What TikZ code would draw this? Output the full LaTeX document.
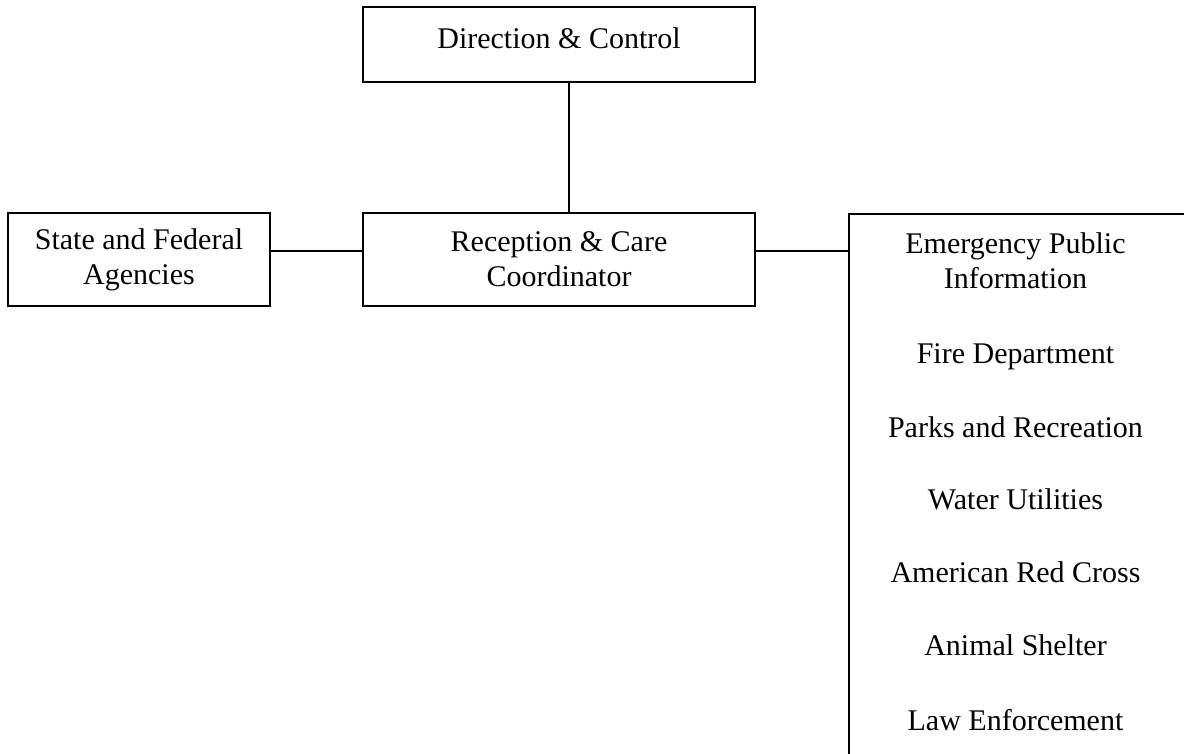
\documentclass[tikz,border=0pt]{standalone}
\usepackage{fontspec}
\setmainfont{Liberation Serif}
\begin{document}
\begin{tikzpicture}[x=1pt,y=-1pt,
  box/.style={draw, line width=1.6pt, rectangle, inner sep=0pt, align=center,
    font=\fontsize{30}{35}\selectfont},
  item/.style={inner sep=0pt, align=center, font=\fontsize{30}{35}\selectfont},
  link/.style={line width=1.6pt}]
\useasboundingbox (0,0) rectangle (1184,753);

% boxes
\node[box, minimum width=392pt, minimum height=75pt, text height=21pt, text depth=14pt]
  (dc) at (559,44.5) {Direction \& Control};
\node[box, minimum width=262pt, minimum height=93pt] (sf) at (139,259.5)
  {State and Federal\\Agencies};
\node[box, minimum width=392pt, minimum height=93pt] (rc) at (559,259.5)
  {Reception \& Care\\Coordinator};
\node[box, minimum width=336.5pt, minimum height=600pt, anchor=north west] (epi) at (848,213) {};

% entries of the support list
\node[item, anchor=north] (pio) at (1015.5,232.5) {Emergency Public\\Information};
\node[item, anchor=base] (fire) at (1015.5,363) {Fire Department};
\node[item, anchor=base] (parks) at (1015.5,437) {Parks and Recreation};
\node[item, anchor=base] (water) at (1015.5,509) {Water Utilities};
\node[item, anchor=base] (arc) at (1015.5,582) {American Red Cross};
\node[item, anchor=base] (animal) at (1015.5,655) {Animal Shelter};
\node[item, anchor=base] (law) at (1015.5,730) {Law Enforcement};

% connectors
\draw[link] ([xshift=10pt]dc.south) -- ([xshift=10pt]rc.north);
\draw[link] ([yshift=8.5pt]sf.east) -- ([yshift=8.5pt]rc.west);
\draw[link] ([yshift=8.5pt]rc.east) -- ([yshift=-38pt]epi.north west);
\end{tikzpicture}
\end{document}
